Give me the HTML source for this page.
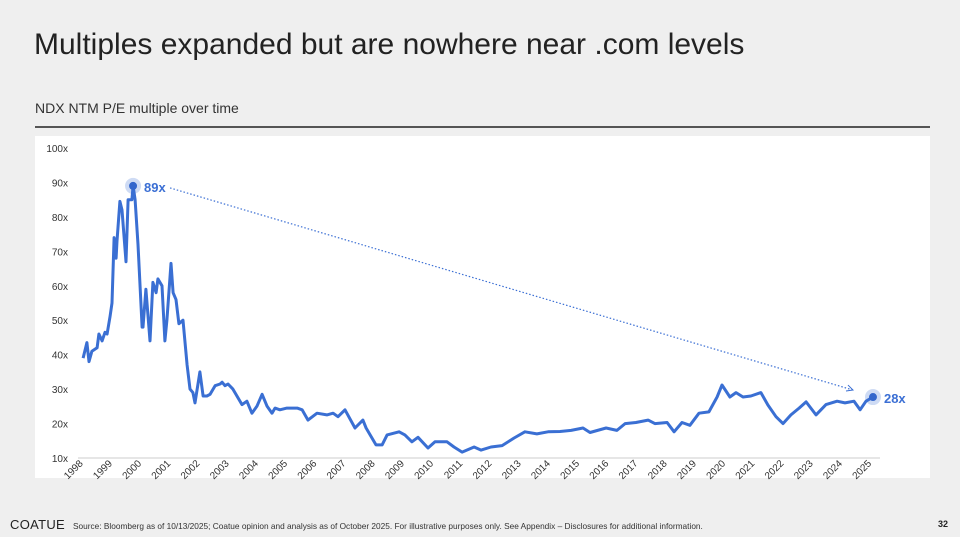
<!DOCTYPE html>
<html><head><meta charset="utf-8"><style>
body{margin:0;width:960px;height:537px;background:#efefef;font-family:"Liberation Sans",sans-serif;overflow:hidden;position:relative}
.t{position:absolute;white-space:nowrap}
</style></head><body>
<div class="t" style="left:34px;top:28px;font-size:30px;color:#222">Multiples expanded but are nowhere near .com levels</div>
<div class="t" style="left:35px;top:100px;font-size:14px;color:#333">NDX NTM P/E multiple over time</div>
<div style="position:absolute;left:35px;top:126px;width:895px;height:2px;background:#555"></div>
<div style="position:absolute;left:35px;top:136px;width:895px;height:342px;background:#fff"></div>
<svg id="chart" width="960" height="537" style="position:absolute;left:0;top:0"></svg>
<div class="t" style="left:10px;top:517px;font-size:13px;color:#222;letter-spacing:0.3px">COATUE</div>
<div class="t" style="left:73px;top:521px;font-size:8.3px;color:#333">Source: Bloomberg as of 10/13/2025; Coatue opinion and analysis as of October 2025. For illustrative purposes only. See Appendix – Disclosures for additional information.</div>
<div class="t" style="left:938px;top:519px;font-size:9px;color:#222;font-weight:bold">32</div>
<script>
const yTicks=[10,20,30,40,50,60,70,80,90,100];
const yearLabels=[1998,1999,2000,2001,2002,2003,2004,2005,2006,2007,2008,2009,2010,2011,2012,2013,2014,2015,2016,2017,2018,2019,2020,2021,2022,2023,2024,2025];
const dates=[1998.67,1998.80,1998.87,1998.97,1999.15,1999.21,1999.32,1999.42,1999.49,1999.59,1999.66,1999.73,1999.80,1999.83,1999.93,2000.00,2000.14,2000.21,2000.34,2000.38,2000.45,2000.55,2000.69,2000.72,2000.82,2000.96,2001.06,2001.17,2001.23,2001.37,2001.47,2001.54,2001.68,2001.75,2001.85,2001.95,2002.09,2002.23,2002.33,2002.43,2002.50,2002.67,2002.78,2002.91,2003.02,2003.19,2003.36,2003.43,2003.53,2003.63,2003.80,2004.11,2004.28,2004.45,2004.62,2004.80,2004.97,2005.14,2005.24,2005.41,2005.65,2006.00,2006.17,2006.37,2006.68,2007.02,2007.23,2007.40,2007.64,2007.98,2008.25,2008.36,2008.70,2008.91,2009.08,2009.49,2009.69,2009.93,2010.14,2010.48,2010.72,2011.13,2011.37,2011.65,2012.06,2012.30,2012.64,2013.02,2013.43,2013.80,2014.21,2014.59,2015.00,2015.38,2015.79,2016.03,2016.58,2016.95,2017.23,2017.60,2018.02,2018.25,2018.67,2018.91,2019.18,2019.45,2019.76,2020.10,2020.38,2020.55,2020.82,2021.03,2021.27,2021.54,2021.88,2022.12,2022.40,2022.64,2022.91,2023.19,2023.43,2023.77,2024.11,2024.49,2024.76,2025.07,2025.28,2025.48,2025.72];
const peValues=[39,43.5,38,41,42,46,44,46.5,46,51,55,74,68,73,84.5,82,67,85,85,89,85,72,48,48,59,44,61,58,62,60,44,50,66.5,58,56,49,50,37,30,29,26,35,28,28,28.5,31,31.5,32,31,31.5,30,25.5,26.5,23,25,28.5,25,23,24.5,24,24.5,24.5,24,21,23,22.5,23,22,24,18.7,21,18.7,13.8,13.8,16.7,17.6,16.7,14.7,16,12.9,14.7,14.7,13.2,11.7,13.2,12.3,13.2,13.6,15.8,17.6,17,17.6,17.7,18,18.7,17.4,18.7,18,20,20.3,21,20,20.3,17.6,20.3,19.5,23,23.4,27.7,31.2,27.7,29,27.7,28,29,25.4,22,20,22.5,24.5,26.3,22.5,25.5,26.5,26,26.5,24,26.5,27.7];
const peakLabel="89x", endLabel="28x";
const svg=document.getElementById('chart');const NS='http://www.w3.org/2000/svg';
const xS=d=>84+(d-1998.7)*29.2;
const yS=v=>458-(v-10)*3.444;
function mk(tag,attrs){const e=document.createElementNS(NS,tag);for(const k in attrs)e.setAttribute(k,attrs[k]);svg.appendChild(e);return e;}
const base=mk('line',{x1:78,x2:880,y1:458,y2:458,stroke:'#ccc','stroke-width':1});


yTicks.forEach(v=>{const t=mk('text',{x:68,y:yS(v)+4,'text-anchor':'end','font-size':10,fill:'#333','font-family':'Liberation Sans, sans-serif'});t.textContent=v+'x';

});
yearLabels.forEach(y=>{const x=xS(y)+20;const t=mk('text',{x:x,y:464,'text-anchor':'end','font-size':10,fill:'#333','font-family':'Liberation Sans, sans-serif',transform:`rotate(-45 ${x} 464)`});t.textContent=y;

});
const n=dates.length;
const arrow=mk('line',{x1:xS(dates[19])+37,y1:yS(peValues[19])+2,x2:xS(dates[n-1])-20,y2:yS(peValues[n-1])-7,stroke:'#3b6fd4','stroke-width':1.2,'stroke-dasharray':'1.5 2'});


const ah=mk('path',{d:`M${xS(dates[n-1])-25} ${yS(peValues[n-1])-12} L${xS(dates[n-1])-20} ${yS(peValues[n-1])-7} L${xS(dates[n-1])-27} ${yS(peValues[n-1])-6}`,fill:'none',stroke:'#3b6fd4','stroke-width':1});


const line=mk('path',{d:dates.map((d,i)=>(i?'L':'M')+xS(d).toFixed(1)+' '+yS(peValues[i]).toFixed(1)).join(' '),fill:'none',stroke:'#3a6fd3','stroke-width':3,'stroke-linejoin':'round'});


[[19,peakLabel,'peak'],[n-1,endLabel,'end']].forEach(([i,lab,nm])=>{const cx=xS(dates[i]),cy=yS(peValues[i]);
const h=mk('circle',{cx:cx,cy:cy,r:8,fill:'#3b6fd4','fill-opacity':0.25});


const c=mk('circle',{cx:cx,cy:cy,r:4,fill:'#3366cc'});


const t=mk('text',{x:cx+11,y:cy+6,'font-size':13,'font-weight':'bold',fill:'#3b6fd4','font-family':'Liberation Sans, sans-serif'});t.textContent=lab;

});
</script>
</body></html>
